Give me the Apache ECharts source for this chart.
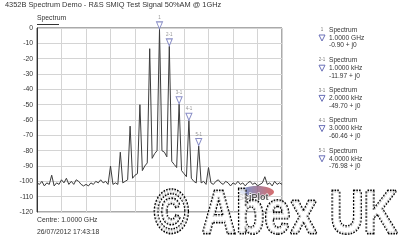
<!DOCTYPE html>
<html>
<head>
<meta charset="utf-8">
<style>
html,body{margin:0;padding:0;background:#fff;}
#chart{width:400px;height:243px;}
</style>
<script src="https://cdn.jsdelivr.net/npm/echarts@6/dist/echarts.min.js"></script>
</head>
<body>
<div id="chart"></div>
<script>
// ---- data ----
const titleText = '4352B Spectrum Demo - R&S SMIQ Test Signal 50%AM @ 1GHz';
const seriesName = 'Spectrum';
const freqStartKHz = -12.5;   // offset from centre (1 GHz)
const freqStepKHz = 0.25;
const levelsDb = [
  -101,-102,-100,-103,-101,-102,-96,-103,-101,-102,
  -99,-101,-98,-102,-100,-102,-99,-100,-102,-103,
  -102,-103,-101,-102,-100,-101,-99,-101,-100,-102,
  -90,-102,-101,-102,-81,-101,-100,-99,-64,-98,
  -96,-95,-50,-93,-90,-88,-13.5,-85,-82,-80,
  -0.9,-80,-81,-84,-11.97,-87,-89,-91,-49.7,-93,
  -95,-97,-60.46,-98,-100,-101,-76.98,-101,-100,-102,
  -91,-101,-102,-100,-99,-101,-102,-100,-101,-103,
  -101,-102,-100,-102,-101,-103,-101,-100,-102,-101,
  -103,-102,-101,-97,-102,-101,-103,-100,-102,-101,
  -102
];
const markerFreqsKHz = [0, 1, 2, 3, 4];
const markerLevelsDb = [-0.90, -11.97, -49.70, -60.46, -76.98];
const markerTags = ['1', '2-1', '3-1', '4-1', '5-1'];
const markerFreqLabels = ['1.0000 GHz', '1.0000 kHz', '2.0000 kHz', '3.0000 kHz', '4.0000 kHz'];
const markerValueLabels = ['-0.90 + j0', '-11.97 + j0', '-49.70 + j0', '-60.46 + j0', '-76.98 + j0'];
const yMin = -120, yMax = 0, yStep = 10;
const xMin = -12.5, xMax = 12.5, xStep = 2.5;
const centreText = 'Centre: 1.0000 GHz';
const dateText = '26/07/2012 17:43:18';

// ---- build ----
const lineData = levelsDb.map((v, i) => [freqStartKHz + i * freqStepKHz, v]);
const markerData = markerFreqsKHz.map((f, i) => [f, markerLevelsDb[i]]);

const FONT = 'Liberation Sans, Arial, sans-serif';
const TXT = '#333';
const MK = '#6a70b8';

const graphics = [
  {type:'text', left:5, top:1, style:{text:titleText, font:'7.4px ' + FONT, fill:TXT}},
  {type:'text', left:37, top:15, style:{text:seriesName, font:'6.8px ' + FONT, fill:TXT}},
  {type:'line', shape:{x1:37, y1:24.5, x2:59, y2:24.5}, style:{stroke:'#333', lineWidth:1}},
  {type:'text', left:37, top:217, style:{text:centreText, font:'6.8px ' + FONT, fill:TXT}},
  {type:'text', left:37, top:229, style:{text:dateText, font:'6.8px ' + FONT, fill:TXT}}
];
for (let g = 0; g < markerTags.length; g++) {
  const y0 = 30 + 30.2 * g;
  graphics.push({type:'text', x:322, y:y0, style:{text:markerTags[g], font:'4.5px ' + FONT, fill:'#777', align:'center', verticalAlign:'middle'}});
  graphics.push({type:'polygon', shape:{points:[[319, y0 + 5], [325, y0 + 5], [322, y0 + 11]]}, style:{fill:'#fff', stroke:MK, lineWidth:1}});
  graphics.push({type:'text', x:329, y:y0, style:{text:seriesName, font:'6.6px ' + FONT, fill:TXT, verticalAlign:'middle'}});
  graphics.push({type:'text', x:329, y:y0 + 8, style:{text:markerFreqLabels[g], font:'6.6px ' + FONT, fill:TXT, verticalAlign:'middle'}});
  graphics.push({type:'text', x:329, y:y0 + 15.5, style:{text:markerValueLabels[g], font:'6.6px ' + FONT, fill:TXT, verticalAlign:'middle'}});
}
// SciPlot logo
graphics.push({type:'ellipse', shape:{cx:257, cy:192, rx:17, ry:6}, style:{fill:new echarts.graphic.LinearGradient(0,0,1,0,[{offset:0,color:'rgba(70,120,200,0.75)'},{offset:1,color:'rgba(200,60,60,0.75)'}])}, z:20});
graphics.push({type:'text', x:238, y:198, style:{text:'SciPlot', font:'bold 9px ' + FONT, fill:'#555', stroke:'#fff', lineWidth:1, verticalAlign:'middle'}, z:21});
// watermark
graphics.push({type:'text', x:154, y:186, scaleX:1.0, scaleY:1.3, style:{text:'© Abex UK', font:'bold 47px ' + FONT, fill:'rgba(255,255,255,0.75)', stroke:'#000', lineWidth:2.2, lineDash:[1.6,1.1], verticalAlign:'top'}, z:30});

const chart = echarts.init(document.getElementById('chart'), null, {renderer:'canvas'});
chart.setOption({
  animation:false,
  backgroundColor:'#fff',
  grid:{left:37, top:28, right:118, bottom:31, show:true, borderColor:'#555', borderWidth:1, backgroundColor:'transparent'},
  xAxis:{type:'value', min:xMin, max:xMax, interval:xStep,
    axisLine:{show:false}, axisTick:{show:false}, axisLabel:{show:false},
    splitLine:{show:true, lineStyle:{color:'#d4d4d4', width:1}}},
  yAxis:{type:'value', min:yMin, max:yMax, interval:yStep,
    axisLine:{show:true, onZero:false, lineStyle:{color:'#333'}}, axisTick:{show:false},
    axisLabel:{color:TXT, fontSize:6.8, fontFamily:FONT, margin:4},
    splitLine:{show:true, lineStyle:{color:'#d4d4d4', width:1}}},
  series:[
    {type:'line', name:seriesName, data:lineData, showSymbol:false, clip:true,
      lineStyle:{color:'#3c3c3c', width:1}, z:3},
    {type:'scatter', data:markerData, symbol:'triangle', symbolRotate:180, symbolSize:[6,7], symbolOffset:[0,-4],
      itemStyle:{color:'#fff', borderColor:MK, borderWidth:1}, z:5,
      label:{show:true, position:'top', distance:1, fontSize:4.5, color:'#777', fontFamily:FONT,
        formatter:(p) => markerTags[p.dataIndex]}}
  ],
  graphic:graphics
});
</script>
</body>
</html>
